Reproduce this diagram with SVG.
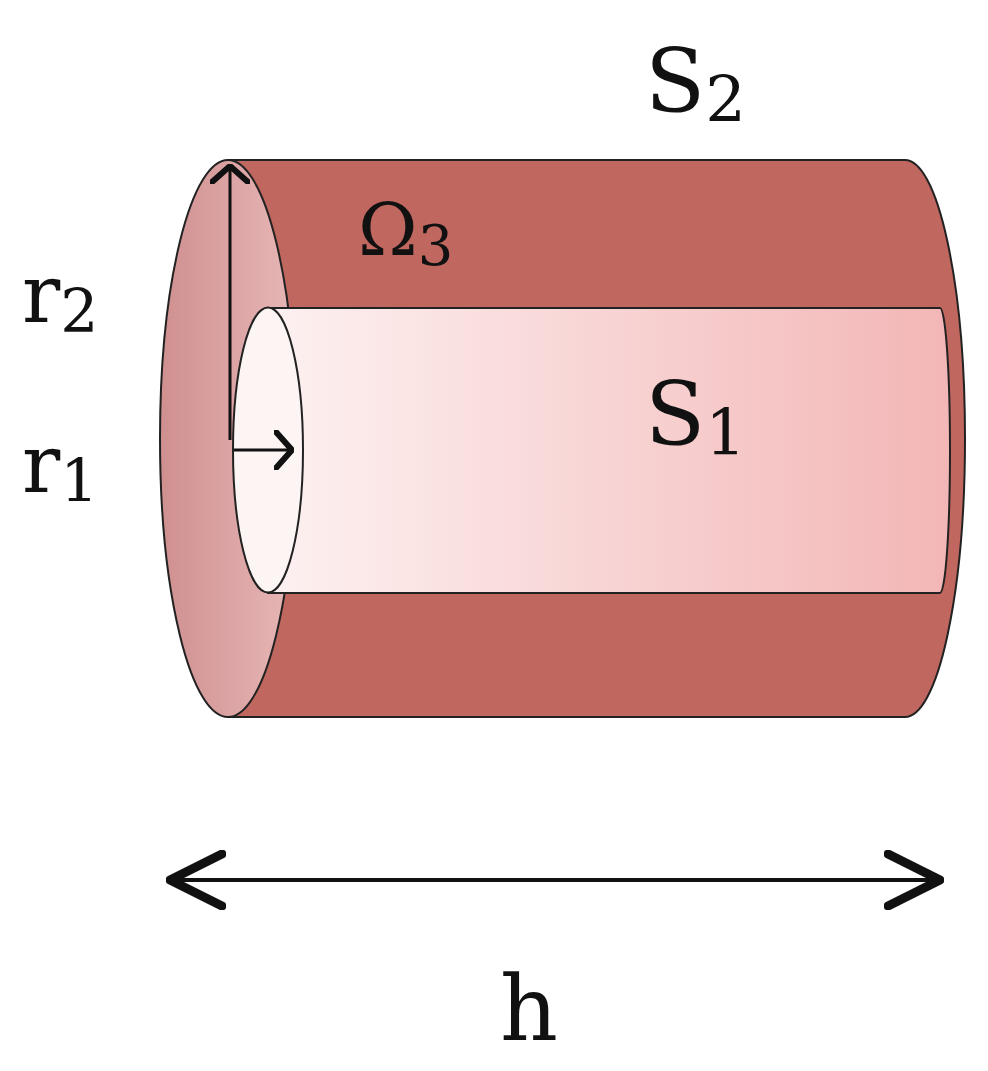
<svg xmlns="http://www.w3.org/2000/svg" width="988" height="1071" viewBox="0 0 988 1071">
<defs>
<linearGradient id="inner" x1="0" x2="1" y1="0" y2="0"><stop offset="0" stop-color="#fdf1f1"/><stop offset="1" stop-color="#f3b6b6"/></linearGradient>
<linearGradient id="face" x1="0" x2="1"><stop offset="0" stop-color="#cf8f8f"/><stop offset="1" stop-color="#e8b7b7"/></linearGradient>
<marker id="open" viewBox="0 0 20 40" refX="18" refY="20" markerWidth="20" markerHeight="40" markerUnits="userSpaceOnUse" orient="auto-start-reverse"><path d="M2,2 L18,20 L2,38" fill="none" stroke="#111" stroke-width="6" stroke-linecap="round" stroke-linejoin="round"/></marker>
<marker id="open2" viewBox="0 0 60 60" refX="56" refY="30" markerWidth="60" markerHeight="60" markerUnits="userSpaceOnUse" orient="auto-start-reverse"><path d="M4,4 L56,30 L4,56" fill="none" stroke="#111" stroke-width="9" stroke-linecap="round" stroke-linejoin="round"/></marker>
</defs>
<style>
.t{font-family:"DejaVu Serif","Liberation Serif",serif;fill:#111}
.l{stroke:#222;stroke-width:2}
</style>
<rect width="988" height="1071" fill="#fff"/>
<path class="l" d="M228,160 L905,160 A60,278.5 0 0 1 905,717 L228,717 Z" fill="#c0675f"/>
<ellipse class="l" cx="228" cy="438.5" rx="68" ry="278.5" fill="url(#face)"/>
<path class="l" d="M268,308 L940,308 A10,142.5 0 0 1 940,593 L268,593 Z" fill="url(#inner)"/>
<ellipse class="l" cx="268" cy="450" rx="35" ry="142.5" fill="#fdf4f4"/>
<g id="connectors">
<line x1="230" y1="440" x2="230" y2="166" stroke="#111" stroke-width="3" marker-end="url(#open)"/>
<line x1="234" y1="450" x2="292" y2="450" stroke="#111" stroke-width="3" marker-end="url(#open)"/>
<line x1="170" y1="880" x2="940" y2="880" stroke="#111" stroke-width="4" marker-start="url(#open2)" marker-end="url(#open2)"/>
</g>
<text class="t" x="645" y="112" font-size="88">S<tspan font-size="64" dy="10">2</tspan></text>
<text class="t" x="358" y="255" font-size="72">Ω<tspan font-size="56" dy="10">3</tspan></text>
<text class="t" x="22" y="322" font-size="80">r<tspan font-size="60" dy="10">2</tspan></text>
<text class="t" x="22" y="492" font-size="80">r<tspan font-size="60" dy="10">1</tspan></text>
<text class="t" x="645" y="445" font-size="88">S<tspan font-size="64" dy="10">1</tspan></text>
<text class="t" x="500" y="1040" font-size="90">h</text>
</svg>
